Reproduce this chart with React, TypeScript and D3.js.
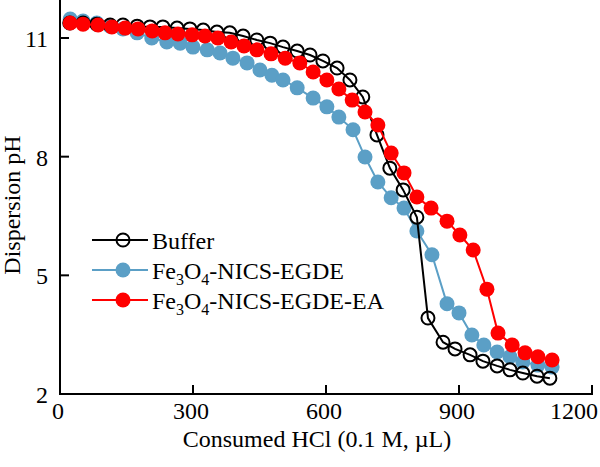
import { useMemo } from 'react'
import * as d3 from 'd3'

const width = 600
const height = 467
const margin = { top: 0, right: 8, bottom: 73, left: 60 }

const xTicks = [0, 300, 600, 900, 1200]
const yTicks = [2, 5, 8, 11]

// [consumed HCl (µL), pH]
const buffer = [
    [22, 11.38], [52, 11.38], [83, 11.35], [113, 11.33], [142, 11.33],
    [174, 11.3], [203, 11.28], [232, 11.28], [264, 11.25], [293, 11.23],
    [323, 11.2], [354, 11.15], [383, 11.13], [413, 11.05], [444, 10.95],
    [474, 10.87], [503, 10.77], [535, 10.67], [564, 10.57], [593, 10.42],
    [625, 10.24], [654, 9.94], [683, 9.51], [715, 8.55], [744, 7.71],
    [774, 7.16], [805, 6.47], [830, 3.92], [864, 3.31], [891, 3.14],
    [925, 2.99], [954, 2.83], [986, 2.71], [1015, 2.61], [1044, 2.53],
    [1076, 2.45], [1105, 2.4]
]

const egde = [
    [23, 11.48], [52, 11.43], [83, 11.38], [113, 11.3], [142, 11.23],
    [174, 11.13], [207, 11.0], [241, 10.9], [271, 10.87], [300, 10.77],
    [332, 10.7], [361, 10.62], [390, 10.49], [422, 10.37], [451, 10.19],
    [478, 10.06], [503, 9.94], [535, 9.74], [571, 9.48], [602, 9.26],
    [629, 9.0], [661, 8.68], [688, 7.99], [717, 7.36], [747, 6.96],
    [776, 6.7], [805, 6.12], [839, 5.52], [873, 4.28], [900, 4.05],
    [929, 3.49], [956, 3.24], [986, 3.06], [1015, 2.94], [1044, 2.81],
    [1078, 2.73], [1110, 2.68]
]

const egdeEa = [
    [23, 11.38], [52, 11.35], [86, 11.33], [117, 11.28], [147, 11.25],
    [176, 11.23], [208, 11.18], [237, 11.13], [266, 11.1], [298, 11.08],
    [327, 11.05], [356, 11.0], [386, 10.9], [415, 10.8], [444, 10.7],
    [476, 10.6], [508, 10.49], [541, 10.37], [571, 10.14], [602, 9.94],
    [629, 9.71], [659, 9.43], [688, 9.13], [717, 8.8], [747, 8.09],
    [776, 7.59], [805, 6.98], [837, 6.7], [873, 6.37], [902, 6.02],
    [932, 5.64], [963, 4.65], [988, 3.54], [1020, 3.24], [1049, 3.04],
    [1078, 2.94], [1110, 2.86]
]

const BLUE = '#5b9fc6'
const RED = '#ff0000'
const FONT = '"Liberation Serif", "Times New Roman", serif'
const FS = 24

const Series = ({ data, xScale, yScale, color, filled }) => {
    const line = d3
        .line()
        .x((d) => xScale(d[0]))
        .y((d) => yScale(d[1]))
    return (
        <g>
            <path d={line(data)} fill="none" stroke={color} strokeWidth={2} />
            {data.map((d, i) => (
                <circle
                    key={i}
                    cx={xScale(d[0])}
                    cy={yScale(d[1])}
                    r={filled ? 7.5 : 6.5}
                    fill={filled ? color : 'none'}
                    stroke={filled ? 'none' : color}
                    strokeWidth={2}
                />
            ))}
        </g>
    )
}

const Formula = ({ suffix }) => (
    <>
        Fe
        <tspan fontSize={16} dy={6}>3</tspan>
        <tspan dy={-6}>O</tspan>
        <tspan fontSize={16} dy={6}>4</tspan>
        <tspan dy={-6}>{suffix}</tspan>
    </>
)

const legendItems = [
    { label: 'Buffer', color: '#000', filled: false },
    { label: '-NICS-EGDE', color: BLUE, filled: true, formula: true },
    { label: '-NICS-EGDE-EA', color: RED, filled: true, formula: true }
]

export default function App() {
    const xScale = useMemo(
        () =>
            d3
                .scaleLinear()
                .domain([0, 1200])
                .range([margin.left, width - margin.right]),
        []
    )
    const yScale = useMemo(
        () =>
            d3
                .scaleLinear()
                .domain([2, 11])
                .range([height - margin.bottom, 38]),
        []
    )
    const x0 = xScale(0)
    const y0 = yScale(2)

    return (
        <svg
            width={width}
            height={height}
            style={{ position: 'absolute', left: 0, top: 0, background: '#fff' }}
            fontFamily={FONT}
        >
            <Series data={egde} xScale={xScale} yScale={yScale} color={BLUE} filled />
            <Series data={buffer} xScale={xScale} yScale={yScale} color="#000" />
            <Series data={egdeEa} xScale={xScale} yScale={yScale} color={RED} filled />

            {/* axes */}
            <line x1={x0} x2={xScale(1200) + 1} y1={y0} y2={y0} stroke="#000" strokeWidth={2} />
            <line x1={x0} x2={x0} y1={y0 + 1} y2={yScale(12)} stroke="#000" strokeWidth={2} />
            {xTicks.map((t) => {
                const last = t === 1200
                return (
                    <g key={t}>
                        {t > 0 && (
                            <line x1={xScale(t)} x2={xScale(t)} y1={y0} y2={y0 - 9} stroke="#000" strokeWidth={2} />
                        )}
                        <text
                            x={last ? width - 2 : xScale(t) - 2}
                            y={y0 + 25}
                            fontSize={FS}
                            textAnchor={last ? 'end' : 'middle'}
                        >
                            {t}
                        </text>
                    </g>
                )
            })}
            {yTicks.map((t) => (
                <g key={t}>
                    {t > 2 && (
                        <line x1={x0} x2={x0 + 9} y1={yScale(t)} y2={yScale(t)} stroke="#000" strokeWidth={2} />
                    )}
                    <text x={x0 - 12} y={yScale(t) + 9} fontSize={FS} textAnchor="end">
                        {t}
                    </text>
                </g>
            ))}
            <text x={317} y={447} fontSize={FS} textAnchor="middle">
                Consumed HCl (0.1 M, µL)
            </text>
            <text transform="translate(20,205) rotate(-90)" fontSize={FS} textAnchor="middle">
                Dispersion pH
            </text>

            {/* legend */}
            {legendItems.map((item, i) => {
                const ly = 240 + i * 30
                return (
                    <g key={item.label}>
                        <line x1={92} x2={148} y1={ly} y2={ly} stroke={item.color} strokeWidth={2} />
                        <circle
                            cx={123}
                            cy={ly}
                            r={item.filled ? 7.5 : 6.5}
                            fill={item.filled ? item.color : 'none'}
                            stroke={item.filled ? 'none' : item.color}
                            strokeWidth={2}
                        />
                        <text x={152} y={ly + 9} fontSize={FS}>
                            {item.formula ? <Formula suffix={item.label} /> : item.label}
                        </text>
                    </g>
                )
            })}
        </svg>
    )
}
